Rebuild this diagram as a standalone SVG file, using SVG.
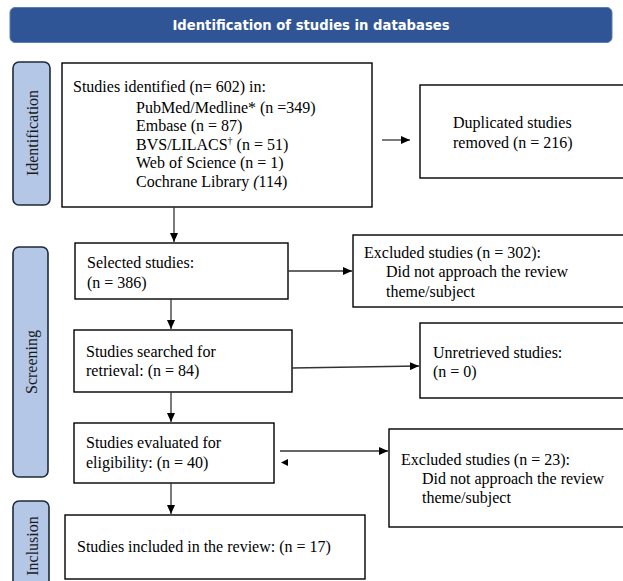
<svg xmlns="http://www.w3.org/2000/svg" width="623" height="581" viewBox="0 0 623 581">
<defs>
<marker id="ah" markerUnits="userSpaceOnUse" markerWidth="10" markerHeight="8" refX="9" refY="4" orient="auto">
<path d="M0,0 L9,4 L0,8 Z" fill="#000"/>
</marker>
<style>
.box{fill:#fff;stroke:#000;stroke-width:1.4}
.side{fill:#b4c7e7;stroke:#1e2a38;stroke-width:1.6}
.t{font-family:"Liberation Serif","Times New Roman",serif;font-size:16px;fill:#000}
.st{font-family:"Liberation Serif","Times New Roman",serif;font-size:16px;fill:#1a1a1a;text-anchor:middle;dominant-baseline:central}
.ln{stroke:#333;stroke-width:1.3;fill:none}
.hd{font-family:"DejaVu Sans",Verdana,sans-serif;font-weight:bold;font-size:13.2px;fill:#fff;text-anchor:middle;dominant-baseline:central}
</style>
</defs>
<rect width="623" height="581" fill="#fff"/>

<g id="header">
<rect x="10" y="7.5" width="602" height="35" rx="5" fill="#2f5597" stroke="#5a7db5" stroke-width="1"/>
<text class="hd" x="311" y="25">Identification of studies in databases</text>
</g>

<g id="label-identification">
<rect class="side" x="13" y="62" width="37" height="143" rx="6"/>
<text class="st" transform="translate(32,133) rotate(-90)">Identification</text>
</g>
<g id="label-screening">
<rect class="side" x="13" y="247" width="35" height="230" rx="6"/>
<text class="st" transform="translate(31,362) rotate(-90)">Screening</text>
</g>
<g id="label-inclusion">
<rect class="side" x="13" y="501" width="36" height="95" rx="6"/>
<text class="st" transform="translate(32,546) rotate(-90)">Inclusion</text>
</g>

<g id="identified">
<rect class="box" x="62" y="63" width="310" height="144"/>
<text class="t" x="73" y="92">Studies identified (n= 602) in:</text>
<text class="t" x="136" y="112.5">PubMed/Medline* (n =349)</text>
<text class="t" x="136" y="131">Embase (n = 87)</text>
<text class="t" x="136" y="149.5">BVS/LILACS<tspan font-size="10" dy="-6">†</tspan><tspan dy="6"> (n = 51)</tspan></text>
<text class="t" x="136" y="168">Web of Science (n = 1)</text>
<text class="t" x="136" y="186.5">Cochrane Library <tspan font-style="italic">(</tspan>114)</text>
</g>

<g id="duplicated">
<rect class="box" x="420" y="85" width="215" height="93"/>
<text class="t" x="453" y="128">Duplicated studies</text>
<text class="t" x="453" y="148">removed (n = 216)</text>
</g>

<g id="selected">
<rect class="box" x="75" y="243" width="213" height="56"/>
<text class="t" x="87" y="268">Selected studies:</text>
<text class="t" x="87" y="288">(n = 386)</text>
</g>

<g id="excluded-302">
<rect class="box" x="353" y="235" width="280" height="72"/>
<text class="t" x="364" y="258">Excluded studies (n = 302):</text>
<text class="t" x="386" y="277">Did not approach the review</text>
<text class="t" x="386" y="297">theme/subject</text>
</g>

<g id="searched">
<rect class="box" x="74" y="330" width="218" height="62"/>
<text class="t" x="86" y="357">Studies searched for</text>
<text class="t" x="86" y="376">retrieval: (n = 84)</text>
</g>

<g id="unretrieved">
<rect class="box" x="420" y="323" width="215" height="75"/>
<text class="t" x="433" y="358">Unretrieved studies:</text>
<text class="t" x="433" y="377">(n = 0)</text>
</g>

<g id="evaluated">
<rect class="box" x="74" y="423" width="200" height="60"/>
<text class="t" x="86" y="448">Studies evaluated for</text>
<text class="t" x="86" y="468">eligibility: (n = 40)</text>
</g>

<g id="excluded-23">
<rect class="box" x="389" y="429" width="245" height="98"/>
<text class="t" x="401" y="465">Excluded studies (n = 23):</text>
<text class="t" x="422" y="484">Did not approach the review</text>
<text class="t" x="422" y="503">theme/subject</text>
</g>

<g id="included">
<rect class="box" x="65" y="515" width="300" height="64"/>
<text class="t" x="77" y="552">Studies included in the review: (n = 17)</text>
</g>

<g id="connectors">
<line class="ln" x1="382" y1="140" x2="410" y2="140" marker-end="url(#ah)"/>
<line class="ln" x1="174" y1="207" x2="174" y2="242" marker-end="url(#ah)"/>
<line class="ln" x1="288" y1="271" x2="352" y2="271" marker-end="url(#ah)"/>
<line class="ln" x1="171" y1="299" x2="171" y2="329" marker-end="url(#ah)"/>
<line class="ln" x1="292" y1="368" x2="419" y2="366" marker-end="url(#ah)"/>
<line class="ln" x1="171" y1="392" x2="171" y2="422" marker-end="url(#ah)"/>
<line class="ln" x1="280" y1="451" x2="388" y2="451" marker-end="url(#ah)"/>
<path d="M281,462.5 L288,459 L288,466 Z" fill="#000"/>
<line class="ln" x1="171" y1="483" x2="171" y2="514" marker-end="url(#ah)"/>
</g>
</svg>
